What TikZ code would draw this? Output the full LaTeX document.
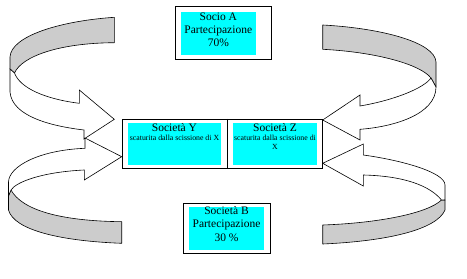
\documentclass[tikz,border=0pt]{standalone}
\usepackage{fontspec}
\setmainfont{Liberation Serif}
\usetikzlibrary{positioning}
\definecolor{BoxCyan}{HTML}{00FFFF}
\definecolor{RibbonGray}{HTML}{CCCCCC}
\definecolor{Ink}{HTML}{000000}
\newcommand{\notetext}{\fontsize{7.8}{8.5}\selectfont}

\begin{document}
\begin{tikzpicture}[x=1pt,y=-1pt,
    every node/.style={font=\fontsize{11.5}{13.3}\selectfont},
    framebox/.style={draw=Ink,line width=0.9pt,fill=white,inner sep=0pt},
    cyanbox/.style={fill=BoxCyan,inner sep=0pt},
    boxtext/.style={align=center,inner sep=0pt},
    ribbonback/.style={draw=Ink,line width=0.6pt,fill=RibbonGray,line join=round},
    ribbonfront/.style={draw=Ink,line width=0.6pt,fill=white,line join=miter}]
    \useasboundingbox (0,0) rectangle (467,279);

    % top left ribbon
    \draw[ribbonback] (114.3,17.3) .. controls (60,21) and (11,36) .. (10,57) -- (10,69) -- (14.5,73)
      .. controls (22,56) and (60,43) .. (114.3,42.7) -- cycle;
    \draw[ribbonfront] (10,69) -- (10,92) .. controls (12,116) and (50,126) .. (84,130)
      -- (84,139) -- (114.3,119.3) -- (79.3,90) -- (79.3,103.3)
      .. controls (45,99) and (20,88) .. (14.5,73) -- cycle;

    % bottom left ribbon
    \draw[ribbonback] (121.7,221.7) .. controls (60,221) and (22,210) .. (11,190) -- (8.5,196) -- (8.5,210)
      .. controls (14,230) and (60,241) .. (121.7,243.3) -- cycle;
    \draw[ribbonfront] (85,148.3) .. controls (40,150) and (9,166) .. (8.5,182) -- (8.5,196) -- (11,190)
      .. controls (16,182) and (42,172) .. (84.3,170) -- (84.3,180) -- (121.7,156.7) -- (85,138) -- cycle;

    % top right ribbon
    \draw[ribbonback] (322.7,25) .. controls (380,28) and (435,42) .. (436,62) -- (436,87) -- (431,78)
      .. controls (420,64) and (375,52) .. (322.7,49.3) -- cycle;
    \draw[ribbonfront] (436,87) .. controls (436,115) and (392,127) .. (360,129.3)
      -- (360,140) -- (322.7,120) -- (360,95) -- (360,106)
      .. controls (395,100) and (424,88) .. (431,78) -- cycle;

    % bottom right ribbon
    \draw[ribbonback] (322.7,225) .. controls (380,223) and (428,213) .. (441.5,200) -- (445,200) -- (445,210)
      .. controls (437,229) and (390,241) .. (322.7,244) -- cycle;
    \draw[ribbonfront] (363.3,155) .. controls (400,160) and (445,172) .. (445,185) -- (445,200) -- (441.5,200)
      .. controls (430,186) and (405,176) .. (363.3,175) -- (363.3,186) -- (322.7,163.3) -- (363.3,144) -- cycle;

    % Socio A
    \node[framebox,minimum width=96.7pt,minimum height=52.6pt] (socioA) at (223.3,33) {};
    \node[cyanbox,minimum width=74.7pt,minimum height=43.3pt] (socioAfill) at (218.3,33.3) {};
    \node[boxtext,below=1pt of socioAfill.north] (socioAtext) {Socio A\\Partecipazione\\70\%};

    % Societa B
    \node[framebox,minimum width=86.7pt,minimum height=50pt] (socioB) at (226.7,228.3) {};
    \node[cyanbox,minimum width=75pt,minimum height=43.3pt] (socioBfill) at (226.5,228.3) {};
    \node[boxtext,below=0pt of socioBfill.north] (socioBtext) {Società B\\Partecipazione\\30 \%};

    % Societa Y and Z
    \node[framebox,minimum width=199.6pt,minimum height=48.7pt] (soc) at (222.5,143.65) {};
    \coordinate (divx) at (227,0);
    \draw[Ink,line width=0.9pt] (soc.north -| divx) -- (soc.south -| divx);
    \node[cyanbox,minimum width=92.4pt,minimum height=41.7pt] (socYfill) at (174.5,144.15) {};
    \node[cyanbox,minimum width=83.4pt,minimum height=41.7pt] (socZfill) at (275,144.15) {};
    \node[boxtext,below=0pt of socYfill.north] (socYtext)
      {Società Y\\[-3.6pt]{\notetext scaturita dalla scissione di X}};
    \node[boxtext,below=0pt of socZfill.north] (socZtext)
      {Società Z\\[-3.6pt]{\notetext scaturita dalla scissione di}\\[-5pt]{\notetext X}};
  \end{tikzpicture}
\end{document}
